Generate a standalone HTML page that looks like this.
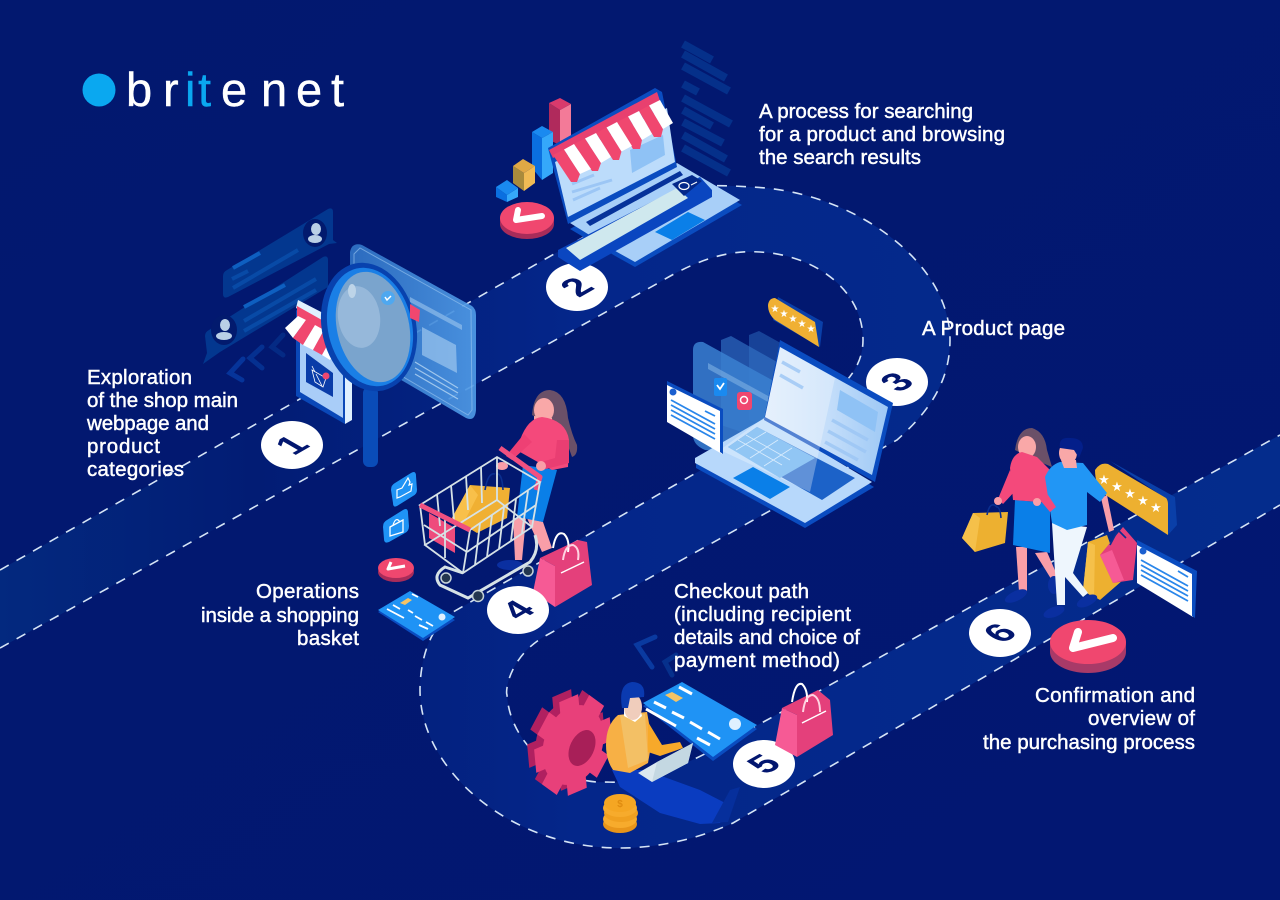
<!DOCTYPE html>
<html><head><meta charset="utf-8"><style>
html,body{margin:0;padding:0;background:#02166f}
svg{display:block}
.l{font-family:"Liberation Sans",sans-serif;font-size:20.5px;fill:#fff;stroke:#fff;stroke-width:.45px}
.n{font-family:"Liberation Sans",sans-serif;font-size:36px;font-weight:bold;fill:#02166f;text-anchor:middle}
.s{font-family:"DejaVu Sans",sans-serif;font-size:10px;fill:#fff;text-anchor:middle}
</style></head><body>
<svg width="1280" height="900" viewBox="0 0 1280 900" xmlns="http://www.w3.org/2000/svg">
<defs>
<linearGradient id="bg" x1="0" y1="0" x2="1" y2="1"><stop offset="0" stop-color="#02186f"/><stop offset="1" stop-color="#021772"/></linearGradient>
<linearGradient id="band" x1="0" y1="0" x2="1" y2="0"><stop offset="0" stop-color="#03297f"/><stop offset=".2" stop-color="#021c74"/><stop offset=".45" stop-color="#04268a"/><stop offset="1" stop-color="#042c8c"/></linearGradient>
<linearGradient id="scr" x1="0" y1="0" x2="1" y2="0"><stop offset="0" stop-color="#e6f3ff"/><stop offset=".5" stop-color="#cfe6fd"/><stop offset="1" stop-color="#a5cff8"/></linearGradient>
<linearGradient id="pan" x1="0" y1="0" x2="1" y2="0"><stop offset="0" stop-color="#2f72c5"/><stop offset="1" stop-color="#4f9ae6"/></linearGradient>
<g id="gear"><circle r="29"/><rect x="24" y="-9" width="12" height="18"/><rect x="24" y="-9" width="12" height="18" transform="rotate(45)"/><rect x="24" y="-9" width="12" height="18" transform="rotate(90)"/><rect x="24" y="-9" width="12" height="18" transform="rotate(135)"/><rect x="24" y="-9" width="12" height="18" transform="rotate(180)"/><rect x="24" y="-9" width="12" height="18" transform="rotate(225)"/><rect x="24" y="-9" width="12" height="18" transform="rotate(270)"/><rect x="24" y="-9" width="12" height="18" transform="rotate(315)"/></g>
</defs>
<rect width="1280" height="900" fill="url(#bg)"/>

<!-- road -->
<path fill="url(#band)" d="M0,570 L640,205 C680,182 720,185 750,187 C850,190 950,260 950,340 C950,385 925,415 897,440 L547,635 C510,655 505,690 507,695 C510,745 560,785 607,782 C660,785 720,745 767,720 L1280,435 L1280,505 L733,823 C700,838 660,848 620,848 C510,848 420,770 420,690 C420,670 425,630 453,612 L820,402 C840,390 863,370 863,340 C863,290 815,255 760,252 C730,250 700,258 660,282 L0,648 Z"/>
<g fill="none" stroke="#d5e4f6" stroke-width="1.6" stroke-dasharray="10 9">
<path d="M0,570 L640,205 C680,182 720,185 750,187 C850,190 950,260 950,340 C950,385 925,415 897,440 L547,635 C510,655 505,690 507,695 C510,745 560,785 607,782 C660,785 720,745 767,720 L1280,435"/>
<path d="M0,648 L660,282 C700,258 730,250 760,252 C815,255 863,290 863,340 C863,370 840,390 820,402 L453,612 C425,630 420,670 420,690 C420,770 510,848 620,848 C660,848 700,838 733,823 L1280,505"/>
</g>

<!-- logo -->
<circle cx="99" cy="90" r="16.5" fill="#0aa8f0"/>
<text y="106" font-family="'Liberation Sans',sans-serif" font-size="47" fill="#fff" stroke="#fff" stroke-width=".4"><tspan x="126">b</tspan><tspan x="163">r</tspan><tspan x="185" fill="#0aa8f0" stroke="#0aa8f0">i</tspan><tspan x="198" fill="#0aa8f0" stroke="#0aa8f0">t</tspan><tspan x="221">e</tspan><tspan x="261">n</tspan><tspan x="296">e</tspan><tspan x="331">t</tspan></text>

<!-- scene 1 -->
<g>
<path d="M223,276 Q223,272 227,270 L328,209 Q333,207 333,212 L333,240 L337,243 L329,244 L228,297 Q223,299 223,294Z" fill="#03378f"/>
<ellipse cx="315" cy="233" rx="12" ry="14" fill="#021a6e"/><ellipse cx="316" cy="229" rx="5" ry="6" fill="#b9cfe6"/><ellipse cx="315" cy="239" rx="7" ry="4" fill="#b9cfe6"/>
<g stroke="#084aa6" stroke-width="4"><line x1="233" y1="268" x2="260" y2="253" stroke="#0e5fc0"/><line x1="232" y1="279" x2="248" y2="271"/><line x1="233" y1="288" x2="298" y2="250"/></g>
<path d="M205,336 Q205,332 209,330 L323,257 Q328,255 328,260 L328,287 L220,352 L203,364 L207,353Z" fill="#03378f"/>
<ellipse cx="224" cy="330" rx="13" ry="15" fill="#021a6e"/><ellipse cx="225" cy="325" rx="5" ry="6" fill="#b9cfe6"/><ellipse cx="224" cy="336" rx="8" ry="4" fill="#b9cfe6"/>
<g stroke="#084aa6" stroke-width="4"><line x1="244" y1="307" x2="285" y2="285" stroke="#0e5fc0"/><line x1="244" y1="321" x2="316" y2="279"/><line x1="244" y1="331" x2="316" y2="290"/></g>
<g fill="none" stroke-width="5" stroke-linecap="round"><polyline points="243,359 230,373 242,380" stroke="#06349a"/><polyline points="262,347 250,358 262,368" stroke="#053090"/><polyline points="283,335 272,347 283,355" stroke="#042a84"/></g>
<path d="M350,252 Q352,242 362,245 L472,306 Q476,309 476,315 L476,410 Q475,422 466,418 L350,350Z" fill="url(#pan)" opacity=".92"/>
<polygon points="354,254 360,248 471,310 472,410 468,415 354,348" fill="none" stroke="#9cc8f2" stroke-width="1" opacity=".6"/>
<polygon points="422,327 456,345 457,373 422,355" fill="#9cc6ee" opacity=".7"/>
<polygon points="410,297 462,325 462,330 410,302" fill="#9cc6ee" opacity=".6"/>
<g stroke="#b8d8f4" stroke-width="1.2" opacity=".8"><line x1="415" y1="362" x2="458" y2="388"/><line x1="415" y1="368" x2="458" y2="393"/><line x1="415" y1="374" x2="458" y2="399"/></g>
<polygon points="296,310 345,334 345,424 296,396" fill="#0a48b8"/>
<polygon points="300,318 343,340 343,418 300,392" fill="#a9cdf8"/>
<polygon points="345,334 352,328 352,420 345,424" fill="#dff0ff"/>
<polygon points="298,300 352,328 345,334 296,308" fill="#dff0ff"/>
<polygon points="297,306 345,333 345,345 297,318" fill="#f0476f"/>
<polygon points="306,353 333,373 333,397 306,382" fill="#0a3ca8"/>
<g stroke="#fff" stroke-width=".8" fill="none"><polygon points="312,370 326,378 323,387 315,382"/><line x1="316" y1="374" x2="322" y2="386"/><line x1="312" y1="366" x2="315" y2="372"/></g>
<circle cx="326" cy="376" r="3.5" fill="#f0476f"/>
<polygon points="298,316 306,320 293,338 285,328" fill="#fff"/>
<polygon points="306,320 315,325 303,345 293,338" fill="#f0476f"/>
<polygon points="315,325 324,330 313,350 303,345" fill="#fff"/>
<polygon points="324,330 333,335 322,355 313,350" fill="#f0476f"/>
<polygon points="333,335 345,342 330,360 322,355" fill="#fff"/>
<rect x="363" y="387" width="15" height="80" rx="6" fill="#0a4cb8"/>
<ellipse cx="369" cy="327" rx="47" ry="65" transform="rotate(-13 369 327)" fill="#0842ae"/>
<ellipse cx="370" cy="327" rx="42" ry="60" transform="rotate(-13 370 327)" fill="#1a7fe6"/>
<ellipse cx="373" cy="327" rx="36" ry="56" transform="rotate(-13 373 327)" fill="#7aa4cd"/>
<ellipse cx="359" cy="317" rx="21" ry="31" transform="rotate(-8 359 317)" fill="#96b8da"/>
<ellipse cx="352" cy="291" rx="4" ry="7" fill="#bdd4e8"/>
<circle cx="388" cy="298" r="7" fill="#4fa8f0"/>
<polyline points="385,297 387,300 391,296" fill="none" stroke="#fff" stroke-width="1.5"/>
<polygon points="410,304 420,310 419,322 410,318" fill="#f0476f"/>
</g>

<!-- scene 2 -->
<g stroke="#05308a" stroke-width="8">
<line x1="683" y1="44" x2="712" y2="60"/><line x1="683" y1="54" x2="726" y2="78"/><line x1="683" y1="66" x2="729" y2="91"/><line x1="683" y1="84" x2="698" y2="92"/>
<line x1="683" y1="98" x2="731" y2="124"/><line x1="683" y1="110" x2="712" y2="126"/><line x1="683" y1="122" x2="723" y2="143"/><line x1="683" y1="135" x2="726" y2="159"/><line x1="683" y1="148" x2="729" y2="173"/>
</g>
<polygon points="549,103 560,110 560,145 549,140" fill="#b02a5c"/><polygon points="560,110 571,104 571,145 560,150" fill="#f37a98"/><polygon points="549,103 560,98 571,104 560,110" fill="#d93a6c"/>
<polygon points="532,132 542,138 542,180 532,168" fill="#0a6fe0"/><polygon points="542,138 553,132 553,173 542,180" fill="#35a8fa"/><polygon points="532,132 542,126 553,132 542,138" fill="#1a8af0"/>
<polygon points="513,166 524,173 524,191 513,183" fill="#a98b3c"/><polygon points="524,173 535,166 535,183 524,191" fill="#f0bb55"/><polygon points="513,166 523,159 535,166 524,173" fill="#e0a845"/>
<polygon points="496,187 507,195 507,202 496,197" fill="#0a6fe0"/><polygon points="507,195 518,188 518,197 507,202" fill="#35a8fa"/><polygon points="496,187 507,180 518,188 507,195" fill="#1a8af0"/>
<ellipse cx="527" cy="224" rx="27" ry="15" fill="#a82c5a"/><rect x="500" y="218" width="54" height="6" fill="#a82c5a"/><ellipse cx="527" cy="218" rx="27" ry="16" fill="#f0476f"/>
<polyline points="518,210 516,220 542,216" fill="none" stroke="#fff" stroke-width="6" stroke-linecap="round" stroke-linejoin="round"/>
<!-- laptop 2 -->
<polygon points="570,229 677,168 742,205 635,267 617,257" fill="#0a4cc0"/>
<polygon points="570,223 677,163 740,200 635,262 617,252" fill="#a8cff8"/>
<polygon points="655,232 688,212 705,220 672,240" fill="#0a7fe8"/>
<polygon points="586,222 680,171 683,175 590,226" fill="#06329a"/>
<polygon points="548,148 655,88 662,92 677,167 568,224" fill="#0a4cc0"/>
<polygon points="555,162 667,108 675,162 568,217" fill="#bcdcfb"/>
<polygon points="630,150 663,135 665,155 632,173" fill="#8fc2f5"/>
<g stroke="#9cc6f5" stroke-width="3"><line x1="572" y1="184" x2="594" y2="175"/><line x1="572" y1="192" x2="612" y2="180"/><line x1="573" y1="200" x2="600" y2="188"/></g>
<polygon points="549,150 657,92 660,101 553,158" fill="#e8406f"/>
<g fill="#f0476f"><polygon points="553,155 564,149.5 580,174 577,182 571,182"/><polygon points="574,144 585,138.5 601,163 598,171 592,171"/><polygon points="596,133 606.5,127.5 621.5,151.5 619,160 613,160"/><polygon points="617,122 628,116.5 642,140 640,149 633,149"/><polygon points="639,111 649,105.5 663,129 661,137 654,137"/></g>
<g fill="#fff"><polygon points="564,149.5 574,144 591,169 580,174"/><polygon points="585,138.5 596,133 611,157 601,163"/><polygon points="606.5,127.5 617,122 632,146 621.5,151.5"/><polygon points="628,116.5 639,111 652,134 642,140"/><polygon points="649,105.5 660,100 673,123 663,129"/></g>
<ellipse cx="577" cy="287" rx="31" ry="24" fill="#fff"/>
<text class="n" transform="matrix(.87 -.5 .87 .5 577 287)" y="12">2</text>
<polygon points="558,250 700,177 712,190 712,197 580,271 558,257" fill="#0a46c0"/>
<polygon points="566,248 677,188 688,198 580,260" fill="#cfe8ee"/>
<polygon points="672,184 692,175 702,181 684,196" fill="#03288a"/>
<ellipse cx="684" cy="186" rx="5" ry="3.5" fill="none" stroke="#fff" stroke-width="1.2"/><line x1="691" y1="185" x2="697" y2="182" stroke="#fff" stroke-width="1"/>

<!-- circle 1 and 3 -->
<ellipse cx="292" cy="445" rx="31" ry="24" fill="#fff"/>
<text class="n" transform="matrix(.87 -.5 .87 .5 292 445)" y="12">1</text>
<ellipse cx="897" cy="382" rx="31" ry="24" fill="#fff"/>
<text class="n" transform="matrix(.87 -.5 .87 .5 897 382)" y="12">3</text>

<!-- scene 3 -->
<g>
<polygon points="749,335 759,331 820,365 815,440 749,420" fill="#2a66b8" opacity=".55"/>
<polygon points="721,340 731,336 800,375 795,450 721,425" fill="#3272c5" opacity=".65"/>
<path d="M693,350 Q693,341 703,342 L790,390 L790,455 L705,450 Q693,445 693,435Z" fill="#3a80d0" opacity=".85"/>
<polygon points="708,363 770,397 770,403 708,369" fill="#7fb0e3" opacity=".6"/>
<rect x="714" y="378" width="13" height="18" rx="2" fill="#1a8af0"/><polyline points="717,385 720,389 724,383" fill="none" stroke="#fff" stroke-width="1.8"/>
<rect x="737" y="392" width="15" height="18" rx="3" fill="#f0476f"/><circle cx="744" cy="400" r="3.5" fill="none" stroke="#fff" stroke-width="1.5"/>
<polygon points="696,462 765,423 874,487 805,528 696,468" fill="#0a4cc0"/>
<polygon points="695,458 765,418 872,482 805,523 695,463" fill="#b7d8fb"/>
<polygon points="728,447 757,427 855,478 822,500" fill="#1c62c8"/>
<polygon points="728,447 757,427 815,458 780,478" fill="#62aef0"/>
<g stroke="#d6ebff" stroke-width=".8" opacity=".9"><line x1="738" y1="440" x2="782" y2="465"/><line x1="746" y1="435" x2="790" y2="460"/><line x1="736" y1="450" x2="766" y2="432"/><line x1="750" y1="458" x2="778" y2="440"/><line x1="764" y1="466" x2="792" y2="448"/></g>
<polygon points="733,478 753,467 790,487 770,499" fill="#0a7fe8"/>
<polygon points="780,340 893,403 875,482 764,420" fill="#0a4cc0"/>
<polygon points="780,347 888,407 872,475 765,417" fill="url(#scr)" opacity=".95"/>
<polygon points="765,417 780,347 835,378 810,492 720,450" fill="#fff" opacity=".3"/>
<polygon points="840,390 878,412 875,432 837,410" fill="#8fc2f5"/>
<g stroke="#9cc6f5" stroke-width="3.5" opacity=".8"><line x1="782" y1="362" x2="800" y2="372"/><line x1="780" y1="375" x2="803" y2="388"/><line x1="832" y1="420" x2="868" y2="440"/><line x1="828" y1="431" x2="866" y2="452"/><line x1="825" y1="442" x2="858" y2="460"/></g>
<polygon points="667,383 722,410 722,454 667,422" fill="#fff"/>
<polygon points="667,381 723,409 723,454 720,452 720,411 667,385" fill="#0a4cc0"/>
<circle cx="673" cy="392" r="3.5" fill="#1a5fd0"/>
<g stroke="#2a86ea" stroke-width="1.8"><line x1="671" y1="400" x2="715" y2="424"/><line x1="671" y1="405" x2="715" y2="429"/><line x1="671" y1="410" x2="715" y2="434"/><line x1="671" y1="415" x2="715" y2="439"/><line x1="705" y1="411" x2="715" y2="416"/></g>
<polygon points="778,297 823,322 820,347 773,320" fill="#0a3fa8"/>
<path d="M768,305 Q769,298 775,298 L815,322 L819,347 L775,320 Q768,314 768,305Z" fill="#f0b033"/>
<text class="s" x="775" y="312">★</text><text class="s" x="784" y="317">★</text><text class="s" x="793" y="322">★</text><text class="s" x="802" y="327">★</text><text class="s" x="811" y="332">★</text>
</g>

<!-- scene 4 -->
<g>
<path d="M532,415 Q534,390 550,390 Q566,392 568,418 Q572,435 577,445 Q578,455 572,457 L566,440 L556,425 L540,420Z" fill="#6b5068"/>
<ellipse cx="544" cy="410" rx="10" ry="12" fill="#f9a8a8"/>
<polygon points="534,416 552,418 552,428 534,428" fill="#f9a8a8"/>
<polygon points="513,518 526,518 522,560 515,560" fill="#f99ea8"/>
<polygon points="527,518 543,522 552,548 542,552" fill="#f99ea8"/>
<ellipse cx="510" cy="565" rx="13" ry="5" fill="#0a2fa0"/>
<polygon points="523,465 557,470 543,522 517,517" fill="#0a7fe8"/>
<path d="M520,440 Q528,418 542,417 Q566,420 569,440 L568,467 L552,470 L520,452Z" fill="#f4497b"/>
<polygon points="524,434 532,442 512,460 506,456" fill="#ee4074"/>
<polygon points="557,440 569,440 569,463 542,470 538,463 555,458" fill="#e93e72"/>
<circle cx="541" cy="466" r="5" fill="#f99ea8"/>
<polyline points="500,448 540,477 536,490" fill="none" stroke="#f05080" stroke-width="5" stroke-linejoin="round"/>
<ellipse cx="502" cy="466" rx="6" ry="4" fill="#f99ea8"/>
<polygon points="452,518 470,485 510,488 507,518 477,533" fill="#f0b033"/>
<polygon points="452,518 470,485 478,495 462,526" fill="#f8c04a"/>
<path d="M485,490 Q488,472 495,474 M503,490 Q502,472 496,474" fill="none" stroke="#0a2f90" stroke-width="1.6"/>
<polygon points="429,513 455,528 455,553 429,538" fill="#ee4b7c"/>
<g stroke="#d6e2e6" stroke-width="1.8" fill="none">
<polygon points="420,505 497,457 540,482 470,530"/>
<polygon points="425,545 463,573 532,527 497,500"/>
<line x1="420" y1="505" x2="425" y2="545"/><line x1="470" y1="530" x2="463" y2="573"/><line x1="540" y1="482" x2="532" y2="527"/><line x1="497" y1="457" x2="497" y2="500"/>
<line x1="437" y1="494" x2="440" y2="526"/><line x1="451" y1="485" x2="454" y2="520"/><line x1="466" y1="476" x2="468" y2="510"/><line x1="481" y1="467" x2="482" y2="503"/>
<line x1="480" y1="523" x2="475" y2="565"/><line x1="492" y1="515" x2="487" y2="557"/><line x1="504" y1="507" x2="499" y2="549"/><line x1="516" y1="499" x2="511" y2="541"/><line x1="528" y1="491" x2="522" y2="533"/>
<line x1="467" y1="552" x2="536" y2="505"/><line x1="424" y1="525" x2="467" y2="552"/><line x1="445" y1="516" x2="445" y2="558"/>
</g>
<polyline points="420,505 470,530" fill="none" stroke="#f05080" stroke-width="5"/>
<path d="M463,573 L445,567 Q432,575 440,585 L468,598 L530,562 Q540,550 535,535" fill="none" stroke="#d6e2e6" stroke-width="3"/>
<g fill="#23364f" stroke="#c5d2d8" stroke-width="1.5"><circle cx="446" cy="578" r="5"/><circle cx="478" cy="596" r="5.5"/><circle cx="528" cy="571" r="5"/></g>
<polygon points="533,592 540,558 555,566 555,607" fill="#f65a95"/>
<polygon points="540,558 578,540 587,542 592,585 555,607 555,566" fill="#e4407b"/>
<path d="M553,548 Q556,530 564,534 Q570,540 568,552" fill="none" stroke="#fff" stroke-width="2"/>
<path d="M563,560 Q565,545 573,545 Q580,548 578,560" fill="none" stroke="#ffd4e2" stroke-width="2"/><line x1="561" y1="573" x2="584" y2="562" stroke="#fff" stroke-width="1.5"/>
<ellipse cx="518" cy="610" rx="31" ry="24" fill="#fff"/>
<text class="n" transform="matrix(.87 -.5 .87 .5 518 610)" y="12">4</text>
<path d="M391,490 Q391,485 395,483 L411,473 Q416,470 416,476 L417,490 Q417,494 413,496 L397,506 Q393,508 393,503Z" fill="#1f93f5"/>
<path d="M397,498 L397,490 L402,488 L408,478 L410,482 L409,485 L412,484 L411,491 L400,497Z" fill="none" stroke="#fff" stroke-width="1.2"/>
<path d="M383,527 Q383,522 387,520 L403,510 Q408,507 408,513 L409,526 Q409,531 405,533 L389,542 Q384,544 384,539Z" fill="#1f93f5"/>
<polygon points="390,527 403,520 403,532 390,536" fill="none" stroke="#fff" stroke-width="1.3"/><path d="M393,525 Q396,516 400,522" fill="none" stroke="#fff" stroke-width="1.2"/>
<ellipse cx="396" cy="572" rx="18" ry="10" fill="#a82c5a"/><ellipse cx="396" cy="568" rx="18" ry="10" fill="#f0476f"/>
<polyline points="391,562 388,569 405,566" fill="none" stroke="#fff" stroke-width="3" stroke-linejoin="round"/>
<polygon points="378,612 410,594 455,620 423,641" fill="#0a4cc0"/>
<polygon points="378,610 410,591 455,617 423,638" fill="#1f93f5"/>
<polygon points="400,603 408,598 412,600 405,605" fill="#f5c465"/>
<g stroke="#fff" stroke-width="1.8"><line x1="412" y1="594" x2="418" y2="597"/><line x1="393" y1="605" x2="400" y2="609"/><line x1="387" y1="609" x2="404" y2="618"/><line x1="408" y1="610" x2="413" y2="613"/><line x1="415" y1="616" x2="422" y2="620"/><line x1="426" y1="622" x2="433" y2="626"/><line x1="419" y1="625" x2="428" y2="629"/></g>
<circle cx="442" cy="617" r="3.5" fill="#dff0ff"/>
</g>

<!-- scene 5 -->
<g>
<g fill="none" stroke="#0a3aa0" stroke-width="5" stroke-linecap="round"><polyline points="655,637 637,645 652,667"/><polyline points="676,655 665,662 672,675" stroke="#06308c"/></g>
<polygon points="643,706 682,685 757,729 713,761" fill="#0a4cc0"/>
<polygon points="643,703 682,682 757,725 713,757" fill="#1f93f5"/>
<polygon points="665,695 672,692 683,698 676,702" fill="#f5c465"/>
<g stroke="#fff" stroke-width="3"><line x1="679" y1="687" x2="692" y2="694"/><line x1="654" y1="702" x2="666" y2="708"/><line x1="646" y1="709" x2="676" y2="726"/><line x1="672" y1="712" x2="684" y2="718"/><line x1="690" y1="722" x2="702" y2="729"/><line x1="708" y1="732" x2="720" y2="739"/><line x1="697" y1="738" x2="710" y2="745"/></g>
<circle cx="735" cy="724" r="6" fill="#dff0ff"/>
<use href="#gear" fill="#b02060" transform="matrix(1.05 -.45 .12 1.3 566 740)"/>
<use href="#gear" fill="#e8407a" transform="matrix(1.05 -.45 .12 1.3 573 745)"/>
<ellipse cx="582" cy="748" rx="12" ry="19" transform="rotate(25 582 748)" fill="#a81f58"/>
<polygon points="612,770 645,770 700,790 733,807 720,823 700,824 660,813 620,787" fill="#0a3cc0"/>
<polygon points="730,790 740,787 728,822 712,823" fill="#062f9c"/>
<path d="M606,745 Q606,725 618,715 L647,712 L652,740 L648,763 L630,773 L613,770Q606,760 606,745Z" fill="#f7b045"/>
<polygon points="620,715 645,714 648,760 628,768" fill="#f3c065"/>
<polygon points="648,722 662,745 680,742 683,748 660,756 648,752" fill="#f7a92a"/>
<polygon points="624,708 640,708 642,716 635,722 624,716" fill="#fff"/>
<ellipse cx="633" cy="707" rx="9" ry="13" fill="#f0cdbc"/>
<path d="M622,708 Q618,684 632,682 Q646,682 644,697 L630,698 L628,708Z" fill="#0a3ab0"/>
<polygon points="638,773 657,762 693,743 688,763 652,782" fill="#dbe8ef"/>
<polygon points="657,762 693,743 688,763 652,782" fill="#c4d8e2"/>
<ellipse cx="620" cy="824" rx="17" ry="9" fill="#e8951a"/><ellipse cx="620" cy="819" rx="17" ry="9" fill="#f7ab2c"/><ellipse cx="621" cy="813" rx="17" ry="9" fill="#f0a020"/><ellipse cx="620" cy="808" rx="17" ry="9" fill="#f7ab2c"/><ellipse cx="620" cy="803" rx="16" ry="9" fill="#f5a623"/>
<text x="620" y="807" font-family="'Liberation Sans',sans-serif" font-size="10" font-weight="bold" fill="#e08c10" text-anchor="middle">$</text>
<ellipse cx="764" cy="764" rx="31" ry="24" fill="#fff"/>
<text class="n" transform="matrix(.87 -.5 .87 .5 764 764)" y="12">5</text>
<polygon points="775,745 782,708 797,715 797,757" fill="#f65a95"/>
<polygon points="782,708 818,690 830,700 833,735 797,757 797,715" fill="#e4407b"/>
<path d="M792,702 Q795,682 802,684 Q808,690 807,702" fill="none" stroke="#fff" stroke-width="2"/>
<path d="M803,712 Q805,695 813,695 Q820,698 820,712" fill="none" stroke="#ffd4e2" stroke-width="2"/><line x1="802" y1="723" x2="826" y2="711" stroke="#fff" stroke-width="1.5"/>
</g>

<!-- scene 6 -->
<g>
<path d="M1015,450 Q1018,428 1032,428 Q1045,432 1047,450 L1052,467 L1040,462 L1025,455Z" fill="#6b5068"/>
<ellipse cx="1027" cy="447" rx="9" ry="11" fill="#f9a8a8"/>
<polygon points="1016,547 1027,547 1027,592 1019,592" fill="#f99ea8"/>
<polygon points="1035,553 1047,552 1057,575 1053,582" fill="#f99ea8"/>
<ellipse cx="1016" cy="596" rx="12" ry="5" fill="#0a2fa0" transform="rotate(-25 1016 596)"/><ellipse cx="1054" cy="585" rx="6" ry="9" fill="#0a2fa0"/>
<polygon points="1015,500 1050,503 1050,553 1013,545" fill="#0a7fe8"/>
<path d="M1010,468 Q1012,454 1022,452 L1037,457 L1050,470 L1052,503 L1013,500Z" fill="#f4497b"/>
<polygon points="1010,470 1016,490 1003,504 998,499" fill="#f4497b"/>
<circle cx="998" cy="501" r="4" fill="#f99ea8"/>
<polygon points="962,538 973,513 1008,512 1005,543 975,552" fill="#edb030"/><polygon points="962,538 973,513 980,518 975,552" fill="#f5c04a"/>
<path d="M987,515 Q990,500 997,507 Q1000,507 1001,518" fill="none" stroke="#0a2f90" stroke-width="1.6"/>
<polygon points="1110,461 1175,497 1177,525 1168,535 1168,500" fill="#0a3fa8"/>
<path d="M1095,470 Q1100,462 1108,464 L1166,498 Q1168,500 1168,504 L1168,535 L1104,494 Q1095,485 1095,470Z" fill="#edb030"/>
<text class="s" x="1104" y="484" style="font-size:13px">★</text><text class="s" x="1117" y="491" style="font-size:13px">★</text><text class="s" x="1130" y="498" style="font-size:13px">★</text><text class="s" x="1143" y="505" style="font-size:13px">★</text><text class="s" x="1156" y="512" style="font-size:13px">★</text>
<polygon points="1083,590 1088,542 1107,535 1123,580 1100,600" fill="#edb030"/><polygon points="1083,590 1088,542 1095,545 1094,598" fill="#f5c04a"/>
<polygon points="1100,555 1123,527 1137,543 1133,580 1113,583" fill="#e4407b"/><polygon points="1100,555 1112,550 1124,580 1113,583" fill="#f65a95"/>
<path d="M1110,545 L1118,530 L1126,538" fill="none" stroke="#0a2f90" stroke-width="1.6"/>
<polygon points="1052,523 1087,527 1073,573 1088,593 1083,597 1065,577 1065,605 1057,605" fill="#eef6fd"/>
<ellipse cx="1054" cy="612" rx="11" ry="5" fill="#0a2fa0" transform="rotate(-20 1054 612)"/><ellipse cx="1087" cy="601" rx="11" ry="5" fill="#0a2fa0" transform="rotate(-25 1087 601)"/>
<polygon points="1101,498 1107,495 1114,530 1109,532" fill="#f99ea8"/>
<path d="M1045,477 Q1050,465 1060,462 L1083,463 L1107,493 L1100,502 L1087,492 L1087,525 L1067,530 L1052,523Z" fill="#2196f5"/>
<polygon points="1048,495 1056,507 1050,512 1040,500" fill="#f4497b"/><circle cx="1037" cy="502" r="4" fill="#f99ea8"/>
<ellipse cx="1068" cy="453" rx="9" ry="11" fill="#f9a8a8"/>
<polygon points="1061,460 1076,460 1077,468 1064,468" fill="#f9a8a8"/>
<path d="M1060,448 Q1058,437 1070,438 Q1083,438 1083,448 L1079,458 L1074,450Z" fill="#031f8a"/>
<polygon points="1137,542 1195,572 1193,617 1137,583" fill="#fff"/>
<polygon points="1137,540 1197,571 1195,618 1192,616 1192,574 1137,545" fill="#0a4cc0"/>
<circle cx="1143" cy="551" r="3.5" fill="#1a5fd0"/>
<g stroke="#2a86ea" stroke-width="1.8"><line x1="1141" y1="560" x2="1188" y2="586"/><line x1="1141" y1="565" x2="1188" y2="591"/><line x1="1141" y1="570" x2="1188" y2="596"/><line x1="1141" y1="575" x2="1188" y2="601"/><line x1="1178" y1="571" x2="1188" y2="577"/></g>
<ellipse cx="1000" cy="633" rx="31" ry="24" fill="#fff"/>
<text class="n" transform="matrix(.87 -.5 .87 .5 1000 633)" y="12">6</text>
<ellipse cx="1088" cy="652" rx="38" ry="21" fill="#a83a68"/><rect x="1050" y="642" width="76" height="10" fill="#a83a68"/>
<ellipse cx="1088" cy="642" rx="38" ry="22" fill="#f0476f"/>
<polyline points="1078,632 1073,648 1113,638" fill="none" stroke="#fff" stroke-width="8" stroke-linecap="round" stroke-linejoin="round"/>
</g>

<!-- labels -->
<g>
<text class="l" x="759" y="118" textLength="214">A process for searching</text>
<text class="l" x="759" y="141" textLength="246">for a product and browsing</text>
<text class="l" x="759" y="164" textLength="162">the search results</text>
<text class="l" x="922" y="335" textLength="143">A Product page</text>
<text class="l" x="87" y="384" textLength="105">Exploration</text>
<text class="l" x="87" y="407" textLength="151">of the shop main</text>
<text class="l" x="87" y="430" textLength="122">webpage and</text>
<text class="l" x="87" y="453" textLength="73">product</text>
<text class="l" x="87" y="476" textLength="97">categories</text>
<text class="l" x="256" y="598" textLength="103">Operations</text>
<text class="l" x="201" y="622" textLength="158">inside a shopping</text>
<text class="l" x="297" y="645" textLength="62">basket</text>
<text class="l" x="674" y="598" textLength="135">Checkout path</text>
<text class="l" x="674" y="621" textLength="177">(including recipient</text>
<text class="l" x="674" y="644" textLength="186">details and choice of</text>
<text class="l" x="674" y="667" textLength="166">payment method)</text>
<text class="l" x="1035" y="702" textLength="160">Confirmation and</text>
<text class="l" x="1088" y="725" textLength="107">overview of</text>
<text class="l" x="983" y="749" textLength="212">the purchasing process</text>
</g>
</svg>
</body></html>
